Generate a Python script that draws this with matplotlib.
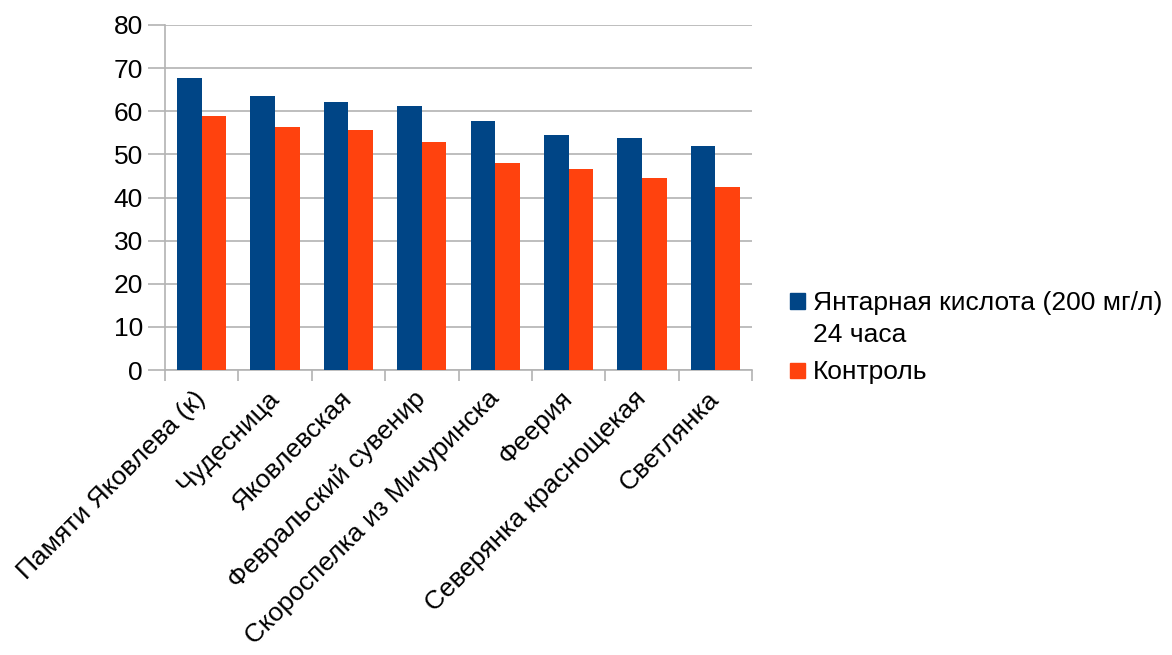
# Grouped bar chart: succinic acid treatment vs control

import numpy as np
import matplotlib.pyplot as plt
from matplotlib.patches import Rectangle

plt.rcParams['font.family'] = ['Liberation Sans', 'DejaVu Sans']

# Data
categories = ['Памяти Яковлева (к)', 'Чудесница', 'Яковлевская', 'Февральский сувенир',
              'Скороспелка из Мичуринска', 'Феерия', 'Северянка краснощекая', 'Светлянка']
acid = [67.7, 63.5, 62.1, 61.2, 57.7, 54.4, 53.8, 51.9]
control = [58.9, 56.3, 55.6, 52.8, 48.0, 46.6, 44.5, 42.4]
series_names = ['Янтарная кислота (200 мг/л)\n24 часа', 'Контроль']
colors = ['#004586', '#ff420e']

W, H = 1172, 655
fig = plt.figure(figsize=(W / 100, H / 100), dpi=100)
ax = fig.add_axes([165 / W, 1 - 370 / H, (752 - 165) / W, (370 - 25) / H])

x = np.arange(len(categories))
w = 0.335
ax.bar(x - w / 2, acid, w, color=colors[0], zorder=3)
ax.bar(x + w / 2, control, w, color=colors[1], zorder=3)

ax.set_xlim(-0.5, len(categories) - 0.5)
ax.set_ylim(0, 80)
ax.set_yticks(range(0, 81, 10))
ax.yaxis.grid(True, color='#b3b3b3', linewidth=1.2, zorder=0)

# category ticks sit between groups, labels at group centres
ax.set_xticks(np.arange(-0.5, len(categories)), minor=False)
ax.set_xticklabels([])
ax.set_xticks(x, minor=True)
ax.set_xticklabels(categories, minor=True, rotation=45, ha='right', va='center',
                   rotation_mode='anchor', fontsize=19)
ax.tick_params(axis='x', which='minor', length=0, pad=18)
ax.tick_params(axis='x', which='major', length=8, color='#b3b3b3', width=1.2)
ax.tick_params(axis='y', length=12, color='#b3b3b3', width=1.2, labelsize=19, pad=4)

for side in ['top', 'right']:
    ax.spines[side].set_visible(False)
for side in ['left', 'bottom']:
    ax.spines[side].set_color('#b3b3b3')
    ax.spines[side].set_linewidth(1.2)

# legend drawn by hand: squares line up with the first text line
sq = 15.5
for name, col, yc in zip(series_names, colors, [301, 370.5]):
    fig.patches.append(Rectangle((790 / W, 1 - (yc + sq / 2) / H), sq / W, sq / H,
                                 transform=fig.transFigure, color=col))
    fig.text(813 / W, 1 - (yc - 10) / H, name, fontsize=19, va='top', ha='left',
             linespacing=1.4)

plt.savefig('out.png', dpi=100)
